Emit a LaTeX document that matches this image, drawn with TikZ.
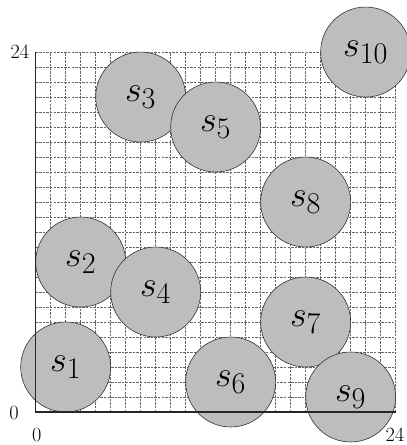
\documentclass[tikz,border=0pt]{standalone}
\newcommand{\disclabel}[1]{\scalebox{1.45}{\Huge $#1$}}
\newcommand{\ticktext}[1]{\scalebox{1.17}{\LARGE #1}}
\tikzset{
  gridline/.style={draw=black!60, line width=0.6pt, dash pattern=on 2.4pt off 1.2pt},
  axisline/.style={draw=black!85, line width=1.6pt},
  disc/.style={circle, draw=black!80, line width=0.6pt, fill=black!26, minimum size=90pt, inner sep=0pt},
  ticklabel/.style={inner sep=0pt}
}
\begin{document}
\begin{tikzpicture}[x=15pt,y=15pt]
\useasboundingbox (-2.38,-2.2) rectangle (24.75,27.47);
\draw[gridline] (0,0) grid[step=1] (24,24);
\node[disc] (s1) at (2,3) {\disclabel{s_1}};
\node[disc] (s2) at (3,10) {\disclabel{s_2}};
\node[disc] (s3) at (7,21) {\disclabel{s_3}};
\node[disc] (s4) at (8,8) {\disclabel{s_4}};
\node[disc] (s5) at (12,19) {\disclabel{s_5}};
\node[disc] (s6) at (13,2) {\disclabel{s_6}};
\node[disc] (s7) at (18,6) {\disclabel{s_7}};
\node[disc] (s8) at (18,14) {\disclabel{s_8}};
\node[disc] (s9) at (21,1) {\disclabel{s_9}};
\node[disc] (s10) at (22,24) {\disclabel{s_{10}}};
\coordinate (o) at (0,0);
\coordinate (xe) at (24,0);
\coordinate (ye) at (0,24);
\draw[axisline] (ye) -- (o) -- (xe);
\node[ticklabel] (l0y) at (-1.45,-0.05) {\ticktext{0}};
\node[ticklabel] (l0x) at (0.07,-1.5) {\ticktext{0}};
\node[ticklabel] (l24x) at (23.95,-1.5) {\ticktext{24}};
\node[ticklabel] (l24y) at (-1.05,24.05) {\ticktext{24}};
\end{tikzpicture}
\end{document}
